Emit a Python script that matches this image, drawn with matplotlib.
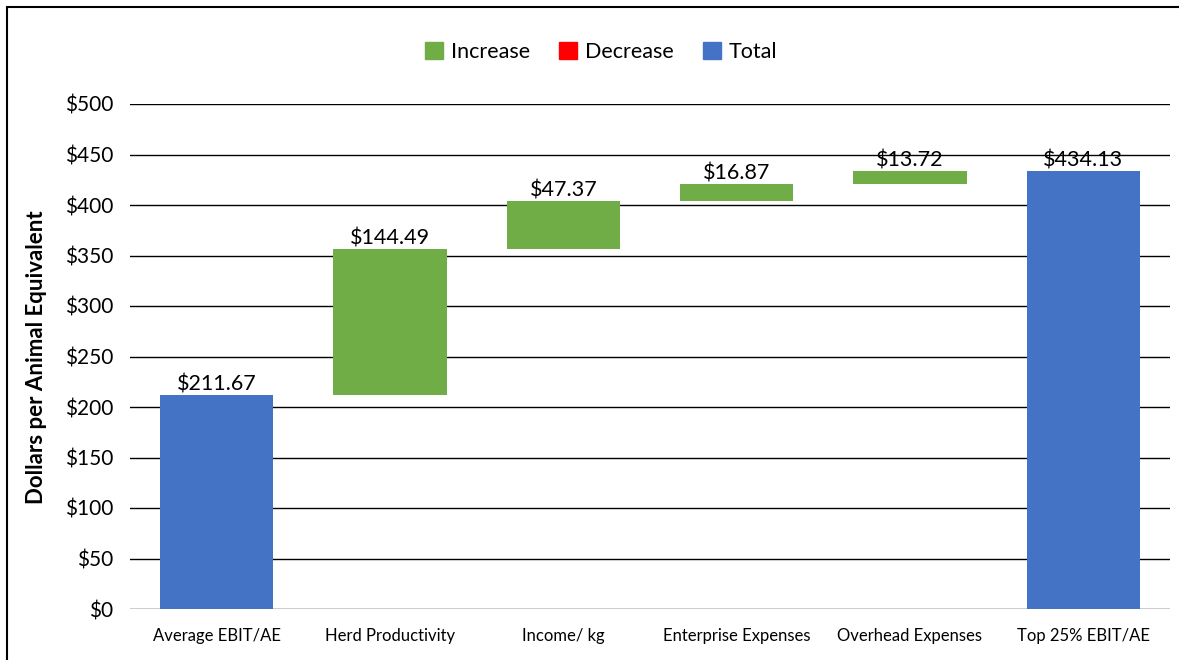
import matplotlib.pyplot as plt
import numpy as np
from matplotlib.patches import Patch, Rectangle

plt.rcParams['font.family'] = ['Lato', 'DejaVu Sans']

categories = ['Average EBIT/AE', 'Herd Productivity', 'Income/ kg',
              'Enterprise Expenses', 'Overhead Expenses', 'Top 25% EBIT/AE']
start_total = 211.67
changes = [144.49, 47.37, 16.87, 13.72]
end_total = 434.13

green = '#70AD47'
red = '#FF0000'
blue = '#4472C4'

# waterfall: first and last bars are totals, the middle ones float
bottoms = [0]
heights = [start_total]
colors = [blue]
running = start_total
for c in changes:
    if c >= 0:
        bottoms.append(running)
        heights.append(c)
        colors.append(green)
    else:
        bottoms.append(running + c)
        heights.append(-c)
        colors.append(red)
    running += c
bottoms.append(0)
heights.append(end_total)
colors.append(blue)
labels = [start_total] + changes + [end_total]

fig = plt.figure(figsize=(11.79, 6.6), dpi=100)
ax = fig.add_axes([130 / 1179, 1 - 609 / 660, 1040 / 1179, 505 / 660])

x = np.arange(len(categories))
ax.bar(x, heights, bottom=bottoms, color=colors, width=0.655, zorder=3)

for xi, b, h, v in zip(x, bottoms, heights, labels):
    ax.text(xi, b + h + 0.5, f'${v:,.2f}', ha='center', va='bottom',
            fontsize=15.5, color='black', zorder=4)

ax.set_xlim(-0.5, len(categories) - 0.5)
ax.set_ylim(0, 500)
ax.set_yticks(np.arange(0, 501, 50))
ax.set_yticklabels([f'${v}' for v in range(0, 501, 50)], fontsize=15)
ax.set_xticks(x)
ax.set_xticklabels(categories, fontsize=12)
ax.tick_params(length=0, pad=12)
ax.tick_params(axis='x', pad=14)
ax.yaxis.grid(True, color='black', linewidth=1)
ax.set_axisbelow(True)
for s in ax.spines.values():
    s.set_visible(False)

fig.text(37 / 1179, 1 - 357 / 660, 'Dollars per Animal Equivalent', rotation=90,
         ha='center', va='center', fontsize=16, fontweight='bold')

handles = [Patch(color=green, label='Increase'),
           Patch(color=red, label='Decrease'),
           Patch(color=blue, label='Total')]
fig.legend(handles=handles, loc='center', bbox_to_anchor=(601 / 1179, 1 - 52 / 660),
           ncol=3, frameon=False, fontsize=15.5, handlelength=0.85, handleheight=0.85,
           handletextpad=0.35, columnspacing=1.35)

# outer frame around the chart area
fig.patches.append(Rectangle((7 / 1179, -0.05), 1.2, 1 - 7 / 660 + 0.05,
                             transform=fig.transFigure, fill=False,
                             edgecolor='black', linewidth=1.5))

fig.savefig('out.png', dpi=100)
